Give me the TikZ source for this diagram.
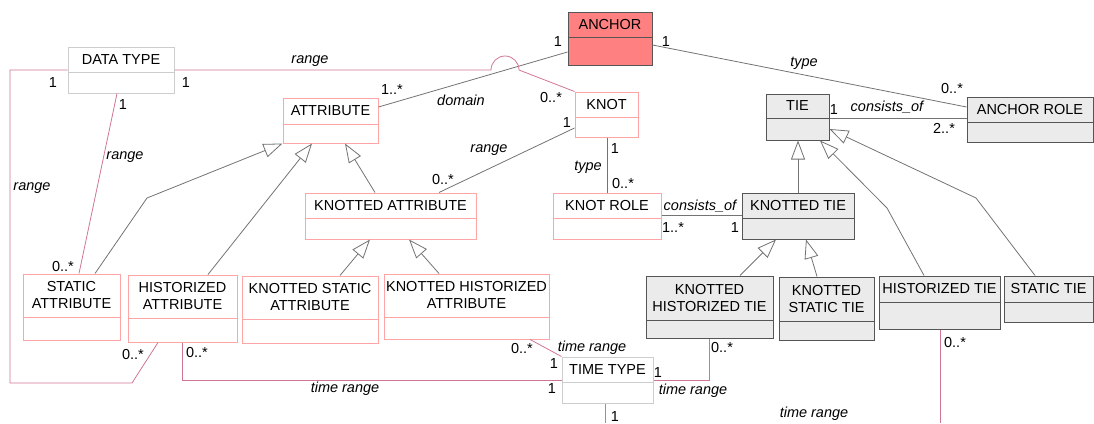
\documentclass[tikz,border=0pt]{standalone}
\usepackage{fontspec}
\setmainfont{Liberation Sans}
\usepackage{tikz}
\usetikzlibrary{arrows.meta,fit}

\definecolor{relpink}{RGB}{208,118,148}
\definecolor{boxpink}{RGB}{255,165,165}
\definecolor{anchorred}{RGB}{255,128,128}
\definecolor{tiegray}{RGB}{235,235,235}
\definecolor{edgegray}{RGB}{85,85,85}
\definecolor{linegray}{RGB}{115,115,115}
\definecolor{typegray}{RGB}{205,205,205}

\tikzset{
  attrbox/.style={draw=boxpink, fill=white, line width=1pt, inner sep=0pt},
  tiebox/.style={draw=edgegray, fill=tiegray, line width=1pt, inner sep=0pt},
  anchorbox/.style={draw=edgegray, fill=anchorred, line width=1pt, inner sep=0pt},
  typebox/.style={draw=typegray, fill=white, line width=1pt, inner sep=0pt},
  gen/.style={draw=linegray, line width=0.8pt, -{Triangle[length=19pt,width=14pt,fill=white]}},
  assoc/.style={draw=linegray, line width=0.8pt},
  rel/.style={draw=relpink, line width=0.8pt},
  role/.style={font=\fontsize{14.5}{17}\selectfont\itshape, inner sep=0pt}
}

\newcommand\classbox[8]{%
  \node[#2, fit={(#3,#4) (#5,#7)}] (#1) {};
  \draw[#2, fill=none] (#3,#6) -- (#5,#6);
  \node[align=center] (#1-name) at ({(#3+#5)/2},{(#4+#6)/2}) {#8};
}

\begin{document}
\begin{tikzpicture}[x=1pt, y=-1pt, font=\fontsize{14.5}{17}\selectfont]
\useasboundingbox (0,0) rectangle (1094,423);

\classbox{anchor}{anchorbox}{568}{12}{652}{37}{65}{ANCHOR}
\classbox{dtype}{typebox}{68}{47}{174}{72}{93}{DATA TYPE}
\classbox{attr}{attrbox}{283}{98}{378}{124}{143}{ATTRIBUTE}
\classbox{knot}{attrbox}{575}{92}{638}{117}{137}{KNOT}
\classbox{tie}{tiebox}{766}{94}{829}{118}{140}{TIE}
\classbox{arole}{tiebox}{967}{97}{1093}{122}{142}{ANCHOR ROLE}
\classbox{kattr}{attrbox}{305}{193}{476}{218}{239}{KNOTTED ATTRIBUTE}
\classbox{krole}{attrbox}{553}{193}{661}{218}{239}{KNOT ROLE}
\classbox{ktie}{tiebox}{742}{193}{854}{218}{239}{KNOTTED TIE}
\classbox{sattr}{attrbox}{23}{274}{120}{317}{340}{STATIC\\ATTRIBUTE}
\classbox{hattr}{attrbox}{128}{275}{237}{318}{342}{HISTORIZED\\ATTRIBUTE}
\classbox{ksattr}{attrbox}{242}{276}{378}{319}{343}{KNOTTED STATIC\\ATTRIBUTE}
\classbox{khattr}{attrbox}{384}{274}{549}{317}{339}{KNOTTED HISTORIZED\\ATTRIBUTE}
\classbox{khtie}{tiebox}{646}{276}{773}{320}{338}{KNOTTED\\HISTORIZED TIE}
\classbox{kstie}{tiebox}{779}{277}{874}{321}{340}{KNOTTED\\STATIC TIE}
\classbox{htie}{tiebox}{879}{276}{1000}{302}{329}{HISTORIZED TIE}
\classbox{stie}{tiebox}{1004}{276}{1093}{302}{322}{STATIC TIE}
\classbox{ttype}{typebox}{562}{357}{653}{382}{403}{TIME TYPE}

\coordinate (ttend) at (605,423);
\coordinate (htend) at (940,423);

\draw[gen] (sattr.north -| 95,0) -- (147,198) -- (attr.south west);
\draw[gen] (hattr.north -| 208,0) -- (attr.south -| 312,0);
\draw[gen] (kattr.north -| 375,0) -- (attr.south -| 345,0);
\draw[gen] (ksattr.north -| 340,0) -- (kattr.south -| 370,0);
\draw[gen] (khattr.north -| 439,0) -- (kattr.south -| 409,0);
\draw[gen] (khtie.north -| 740,0) -- (ktie.south -| 776,0);
\draw[gen] (kstie.north -| 817,0) -- (ktie.south -| 806,0);
\draw[gen] (ktie.north -| 798,0) -- (tie.south -| 798,0);
\draw[gen] (htie.north -| 924,0) -- (887,208) -- (tie.south -| 820,0);
\draw[gen] (stie.north -| 1035,0) -- (976,198) -- (tie.east |- 0,129);

\draw[assoc] (anchor.west |- 0,52) -- (attr.east |- 0,107)
  node[inner sep=0pt] at (558,42) {1} node[inner sep=0pt] at (392,90) {1..*}
  node[role] at (461,100) {domain};
\draw[assoc] (anchor.east |- 0,45) -- (arole.west |- 0,107)
  node[inner sep=0pt] at (666,42) {1} node[role] at (804,63) {type}
  node[inner sep=0pt] at (952,89) {0..*};
\draw[assoc] (tie.east |- 0,118) -- (arole.west |- 0,118)
  node[inner sep=0pt] at (834,110) {1} node[role] at (887,107) {consists\_of}
  node[inner sep=0pt] at (944,128) {2..*};
\draw[assoc] (knot.west |- 0,128) -- (kattr.north -| 439,0)
  node[inner sep=0pt] at (567,123) {1} node[role] at (489,150) {range}
  node[inner sep=0pt] at (443,180) {0..*};
\draw[assoc] (knot.south -| 607,0) -- (krole.north -| 607,0)
  node[inner sep=0pt] at (615,149) {1} node[role] at (588,167) {type}
  node[inner sep=0pt] at (623,184) {0..*};
\draw[assoc] (krole.east |- 0,215) -- (ktie.west |- 0,215)
  node[role] at (700,206) {consists\_of} node[inner sep=0pt] at (673,228) {1..*}
  node[inner sep=0pt] at (735,228) {1};

\draw[rel] (dtype.east |- 0,70) -- (491,70) arc[start angle=180, end angle=360, radius=14] -- (knot.north west)
  node[inner sep=0pt] at (186,83) {1} node[role] at (310,61) {range}
  node[inner sep=0pt] at (551,98) {0..*};
\draw[rel] (dtype.west |- 0,70) -- (10,70) -- (10,383) -- (132,383) -- (hattr.south -| 158,0)
  node[inner sep=0pt] at (53,83) {1} node[role] at (32,188) {range}
  node[inner sep=0pt] at (133,355) {0..*};
\draw[rel] (dtype.south -| 117,0) -- (sattr.north -| 79,0)
  node[inner sep=0pt] at (123,105) {1} node[role] at (125,157) {range}
  node[inner sep=0pt] at (63,267) {0..*};
\draw[rel] (hattr.south -| 182,0) |- (ttype.west |- 0,380)
  node[inner sep=0pt] at (197,353) {0..*} node[role] at (345,389) {time range}
  node[inner sep=0pt] at (552,389) {1};
\draw[rel] (khattr.south -| 530,0) -- (ttype.north west)
  node[inner sep=0pt] at (522,349) {0..*} node[role] at (592,348) {time range}
  node[inner sep=0pt] at (554,364) {1};
\draw[rel] (ttype.east |- 0,380) -| (khtie.south -| 709,0)
  node[inner sep=0pt] at (658,373) {1} node[role] at (693,391) {time range}
  node[inner sep=0pt] at (722,348) {0..*};
\draw[rel] (ttype.south -| 605,0) -- (ttend)
  node[inner sep=0pt] at (615,417) {1};
\draw[rel] (htie.south -| 940,0) -- (htend)
  node[inner sep=0pt] at (955,343) {0..*} node[role] at (814,414) {time range};
\end{tikzpicture}
\end{document}
